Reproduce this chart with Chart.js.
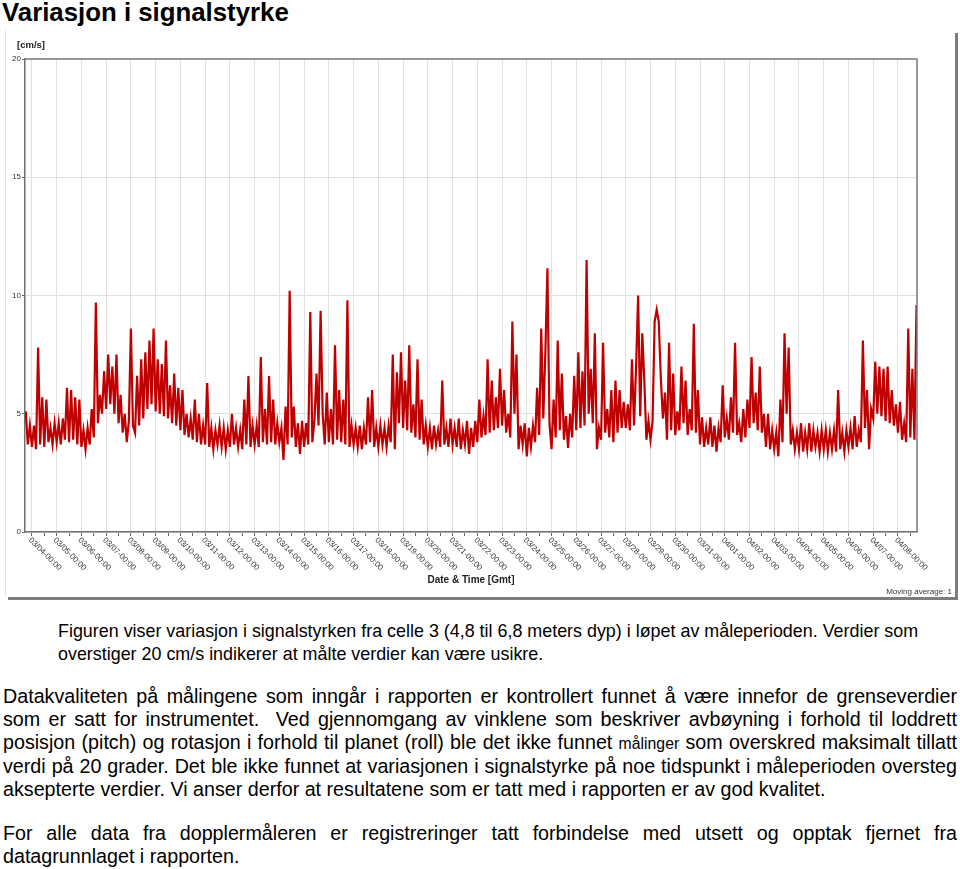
<!DOCTYPE html>
<html>
<head>
<meta charset="utf-8">
<script src="https://cdn.jsdelivr.net/npm/chart.js@4"></script>
<style>
  body { margin: 0; background: #fff; font-family: "Liberation Sans", Arial, sans-serif; color: #000; }
  #page { position: relative; width: 960px; height: 869px; overflow: hidden; }
  h1 { position: absolute; left: 2px; top: -1px; margin: 0; font-size: 25.8px; line-height: 26px; font-weight: bold; }
  .frame { position: absolute; left: 5px; top: 30px; width: 950px; height: 567px; background: #fff;
           border-left: 1px solid #e4e4e4; box-sizing: border-box; box-shadow: 3px 3px 0 #7d7d7d; }
  #chartBox { position: absolute; left: 0; top: 30px; width: 955px; height: 567px; }
  .para { position: absolute; line-height: 23px; }
  .para div { white-space: nowrap; }
  .para .j { text-align: justify; text-align-last: justify; white-space: normal; }
  .p1 { font-size: 17.9px; }
  .p2 { font-size: 19.7px; }
  .small { font-size: 15.8px; }
</style>
</head>
<body>
<div id="page">
  <h1>Variasjon i signalstyrke</h1>
  <div class="frame"></div>
  <div id="chartBox"><canvas id="signalChart" width="955" height="567"></canvas></div>

  <div class="para p1" style="left:58px; top:620px;">
    <div>Figuren viser variasjon i signalstyrken fra celle 3 (4,8 til 6,8 meters dyp) i løpet av måleperioden. Verdier som</div>
    <div>overstiger 20 cm/s indikerer at målte verdier kan være usikre.</div>
  </div>

  <div class="para p2" style="left:3px; top:685px; width:954px;">
    <div class="j">Datakvaliteten på målingene som inngår i rapporten er kontrollert funnet å være innefor de grenseverdier</div>
    <div class="j">som er satt for instrumentet.&nbsp; Ved gjennomgang av vinklene som beskriver avbøyning i forhold til loddrett</div>
    <div class="j">posisjon (pitch) og rotasjon i forhold til planet (roll) ble det ikke funnet <span class="small">målinger</span> som overskred maksimalt tillatt</div>
    <div class="j">verdi på 20 grader. Det ble ikke funnet at variasjonen i signalstyrke på noe tidspunkt i måleperioden oversteg</div>
    <div>aksepterte verdier. Vi anser derfor at resultatene som er tatt med i rapporten er av god kvalitet.</div>
  </div>

  <div class="para p2" style="left:3px; top:822px; width:954px;">
    <div class="j">For alle data fra dopplermåleren er registreringer tatt forbindelse med utsett og opptak fjernet fra</div>
    <div>datagrunnlaget i rapporten.</div>
  </div>
</div>

<script>
// x = days since 03/04 00:00, one sample every 2 hours, first sample 03/03 18:00
const startDay = -0.25;
const stepHours = 2;

const dateLabels = [
  "03/04-00:00", "03/05-00:00", "03/06-00:00", "03/07-00:00", "03/08-00:00", "03/09-00:00",
  "03/10-00:00", "03/11-00:00", "03/12-00:00", "03/13-00:00", "03/14-00:00", "03/15-00:00",
  "03/16-00:00", "03/17-00:00", "03/18-00:00", "03/19-00:00", "03/20-00:00", "03/21-00:00",
  "03/22-00:00", "03/23-00:00", "03/24-00:00", "03/25-00:00", "03/26-00:00", "03/27-00:00",
  "03/28-00:00", "03/29-00:00", "03/30-00:00", "03/31-00:00", "04/01-00:00", "04/02-00:00",
  "04/03-00:00", "04/04-00:00", "04/05-00:00", "04/06-00:00", "04/07-00:00", "04/08-00:00"
];

const yTicks = [0, 5, 10, 15, 20];

// signal strength [cm/s] (one row per day)
const speed = [
  5.1, 3.7, 4.5,
  3.6, 4.5, 3.5, 7.8, 3.7, 5.7, 3.6, 5.6, 3.8, 4.4, 3.7, 4.6,
  3.8, 4.6, 3.7, 4.8, 3.9, 6.1, 3.8, 6.0, 3.9, 5.7, 3.7, 5.6,
  3.6, 4.3, 3.5, 4.4, 3.7, 5.2, 4.0, 9.7, 4.6, 5.8, 5.0, 6.8,
  5.2, 7.5, 5.4, 7.0, 5.0, 7.5, 4.6, 5.8, 4.2, 5.0, 3.8, 4.7,
  8.6, 4.5, 4.2, 6.6, 4.5, 7.3, 4.8, 7.6, 5.2, 8.1, 5.4, 8.6,
  5.1, 7.3, 5.0, 7.1, 4.9, 8.1, 4.8, 6.2, 4.6, 6.7, 4.5, 6.1,
  4.3, 6.0, 4.1, 5.0, 4.0, 4.8, 3.9, 5.6, 3.8, 5.0, 3.7, 4.5,
  3.7, 6.3, 3.6, 4.4, 3.5, 4.3, 3.7, 4.5, 3.6, 4.4, 3.5, 4.3,
  3.6, 5.0, 3.7, 4.4, 3.6, 4.3, 3.5, 5.6, 3.7, 6.6, 3.6, 4.5,
  3.7, 4.5, 3.6, 7.4, 3.8, 5.2, 3.7, 6.6, 3.8, 5.6, 3.7, 4.6,
  3.8, 4.4, 3.05, 5.3, 3.7, 10.2, 4.0, 5.3, 3.6, 4.6, 3.3, 4.7,
  3.6, 4.6, 3.7, 9.3, 3.8, 4.7, 6.7, 4.5, 9.35, 5.0, 3.7, 5.9,
  3.8, 5.2, 3.7, 7.9, 3.9, 6.0, 3.8, 5.6, 3.7, 9.8, 3.6, 4.5,
  3.7, 4.4, 3.6, 4.5, 3.5, 4.4, 3.7, 5.7, 3.8, 6.0, 3.6, 4.4,
  3.6, 4.5, 3.7, 4.4, 3.6, 4.5, 3.8, 7.5, 3.5, 6.75, 4.6, 7.6,
  4.4, 6.4, 4.3, 7.9, 4.2, 5.4, 4.0, 7.3, 3.9, 5.6, 3.7, 4.5,
  3.6, 4.4, 3.5, 4.5, 3.7, 4.3, 3.6, 6.4, 3.7, 4.4, 3.6, 4.8,
  3.7, 4.4, 3.6, 4.8, 3.5, 4.3, 3.7, 4.7, 3.3, 4.4, 3.6, 4.7,
  3.8, 5.6, 4.0, 4.9, 4.1, 7.3, 4.2, 6.4, 4.3, 5.7, 4.4, 6.9,
  4.5, 6.0, 4.2, 5.0, 4.0, 8.9, 5.0, 7.5, 3.5, 4.5, 3.7, 4.6,
  3.2, 4.4, 3.6, 4.5, 3.8, 6.1, 4.1, 8.6, 4.8, 7.6, 11.15, 4.6,
  3.5, 5.6, 4.0, 8.1, 4.3, 6.7, 3.9, 4.9, 3.55, 5.0, 4.0, 6.6,
  4.3, 7.6, 4.4, 6.8, 4.5, 11.5, 5.0, 6.9, 4.6, 8.4, 3.5, 4.4,
  3.9, 8.0, 4.2, 5.2, 4.0, 6.0, 3.8, 6.4, 4.2, 6.0, 4.4, 5.5,
  4.4, 5.4, 4.3, 7.3, 4.5, 7.0, 10.0, 4.9, 8.4, 6.4, 3.9, 4.7,
  3.9, 4.7, 8.9, 9.4, 8.9, 6.5, 4.8, 5.9, 3.9, 8.0, 4.3, 6.7,
  4.1, 5.1, 4.3, 7.0, 4.6, 6.4, 4.1, 5.2, 4.3, 8.8, 4.2, 6.0,
  3.7, 4.85, 3.6, 4.4, 3.7, 4.85, 3.6, 4.5, 3.4, 4.4, 3.8, 6.2,
  4.0, 4.8, 3.9, 5.7, 4.2, 8.0, 4.1, 4.6, 3.8, 5.2, 4.0, 5.6,
  4.4, 7.4, 4.6, 5.9, 4.3, 7.0, 4.2, 5.0, 3.6, 5.0, 3.5, 4.3,
  3.5, 4.2, 3.2, 5.6, 3.8, 8.4, 5.0, 7.8, 3.7, 4.3, 3.5, 4.2,
  3.5, 4.6, 3.4, 4.2, 3.5, 4.6, 3.4, 4.3, 3.6, 4.2, 3.4, 4.3,
  3.5, 4.3, 3.4, 4.2, 3.5, 4.3, 3.4, 6.0, 3.5, 4.2, 3.4, 4.3,
  3.6, 4.4, 3.5, 4.9, 3.6, 4.3, 3.8, 8.1, 4.4, 6.0, 3.5, 5.2,
  4.8, 7.2, 5.0, 7.0, 4.9, 6.9, 4.7, 7.0, 4.6, 6.0, 4.5, 5.4,
  4.2, 5.5, 3.9, 4.6, 3.8, 8.6, 4.0, 6.9, 3.9, 9.6
];

const points = speed.map((v, i) => ({ x: startDay + i * stepHours / 24, y: v }));

const labelFont = '8px "Liberation Sans", Arial, sans-serif';

// frame on top/right, rotated date labels and the extra captions
const decorations = {
  id: "decorations",
  afterDraw(chart) {
    const { ctx, chartArea } = chart;
    const xs = chart.scales.x;
    ctx.save();
    ctx.strokeStyle = "#7a7a7a";
    ctx.lineWidth = 1.5;
    ctx.beginPath();
    ctx.moveTo(chartArea.left, chartArea.top);
    ctx.lineTo(chartArea.right, chartArea.top);
    ctx.lineTo(chartArea.right, chartArea.bottom);
    ctx.stroke();

    ctx.fillStyle = "#333";
    ctx.font = labelFont;
    ctx.textAlign = "left";
    ctx.textBaseline = "middle";
    dateLabels.forEach((lab, d) => {
      const x = xs.getPixelForValue(d);
      ctx.save();
      ctx.translate(x - 2, chartArea.bottom + 7);
      ctx.rotate(Math.PI / 4);
      ctx.fillText(lab, 0, 0);
      ctx.restore();
    });

    ctx.fillStyle = "#222";
    ctx.font = 'bold 9.5px "Liberation Sans", Arial, sans-serif';
    ctx.fillText("[cm/s]", 17, 15);

    ctx.fillStyle = "#333";
    ctx.font = labelFont;
    ctx.textAlign = "right";
    ctx.fillText("Moving average: 1", 952, 562);
    ctx.restore();
  }
};

new Chart(document.getElementById("signalChart"), {
  type: "line",
  data: {
    datasets: [{
      label: "Signalstyrke",
      data: points,
      borderColor: "#c00000",
      borderWidth: 2.2,
      pointRadius: 0,
      tension: 0,
      fill: false
    }]
  },
  options: {
    responsive: false,
    animation: false,
    events: [],
    layout: { padding: { left: 0, top: 29, right: 38, bottom: 0 } },
    plugins: { legend: { display: false }, tooltip: { enabled: false } },
    scales: {
      x: {
        type: "linear",
        min: -0.28,
        max: 35.77,
        afterBuildTicks(scale) {
          const t = [];
          for (let k = 0; k <= 71; k++) t.push({ value: k / 2 });
          scale.ticks = t;
        },
        afterFit(scale) { scale.height = 65; },
        ticks: { display: false },
        grid: {
          color: (c) => (c.tick && c.tick.value % 1 === 0 ? "#e0e0e0" : "rgba(0,0,0,0)"),
          tickColor: "#666",
          tickLength: 4,
          lineWidth: 1
        },
        border: { color: "#707070", width: 1.5 },
        title: {
          display: true,
          text: "Date & Time [Gmt]",
          color: "#222",
          font: { family: "Liberation Sans", size: 10, weight: "bold" },
          padding: { top: 0, bottom: 11 }
        }
      },
      y: {
        min: 0,
        max: 20,
        afterBuildTicks(scale) { scale.ticks = yTicks.map(v => ({ value: v })); },
        afterFit(scale) { scale.width = 25; },
        ticks: {
          color: "#333",
          font: { family: "Liberation Sans", size: 8 },
          padding: 1
        },
        grid: { color: "#e0e0e0", tickColor: "#666", tickLength: 3 },
        border: { color: "#707070", width: 1.5 }
      }
    }
  },
  plugins: [decorations]
});
</script>
</body>
</html>
